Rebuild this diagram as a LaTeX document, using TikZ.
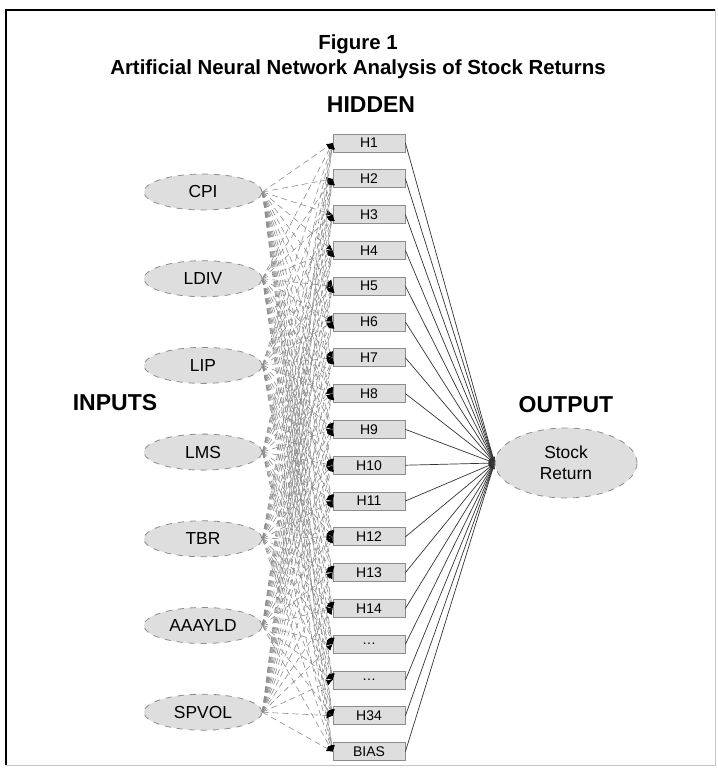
\documentclass[tikz,border=0pt]{standalone}
\usepackage{fontspec}
\setmainfont{Liberation Sans}
\usepackage{tikz}
\usetikzlibrary{shapes.geometric}
\usetikzlibrary{arrows.meta}
\usetikzlibrary{positioning}
\definecolor{nodegray}{RGB}{222,222,222}
\definecolor{rimgray}{RGB}{140,140,140}
\definecolor{wiregray}{RGB}{140,140,140}
\tikzset{
  inputnode/.style={shape=ellipse,minimum width=59pt,minimum height=18pt,inner sep=0pt,fill=nodegray,draw=rimgray,dashed,line width=0.4pt,font=\fontsize{8.7}{10}\selectfont},
  hiddennode/.style={shape=rectangle,minimum width=36pt,minimum height=9pt,inner sep=0pt,fill=nodegray,draw=rimgray,line width=0.4pt,font=\fontsize{7}{8}\selectfont},
  outputnode/.style={shape=ellipse,minimum width=71pt,minimum height=35pt,inner sep=0pt,fill=nodegray,draw=rimgray,dashed,line width=0.4pt,align=center,font=\fontsize{8.7}{10.5}\selectfont},
  inwire/.style={draw=wiregray,densely dashed,line width=0.3pt,-{Latex[length=3pt,width=3pt,color=black]}},
  outwire/.style={draw=black!80,line width=0.35pt,-{Latex[length=3pt,width=2pt]}}
}
\newcommand\layertitle[1]{{\fontsize{11.5}{13}\selectfont\bfseries #1}}
\newcommand\figtitle[1]{{\fontsize{10.2}{12}\selectfont\bfseries #1}}

\begin{document}
\begin{tikzpicture}[x=0.5pt,y=-0.5pt]
\useasboundingbox (0,0) rectangle (717,770);
% frame
\draw[line width=1pt] (6,765) -- (6,10) -- (715,10);
\draw[gray!45,line width=0.4pt] (6,765) -- (715,765) -- (715,10);
% headings
\node (fig) at (358,44) {\figtitle{Figure 1}};
\node (caption) at (358,69) {\figtitle{Artificial Neural Network Analysis of Stock Returns}};
\node (hiddenlbl) at (371,105) {\layertitle{HIDDEN}};
\node (inputlbl) at (115,403) {\layertitle{INPUTS}};
% layers
\foreach \name [count=\i] in {CPI,LDIV,LIP,LMS,TBR,AAAYLD,SPVOL}
  \node[inputnode] (in\i) at (203,{192+(\i-1)*86.7}) {\name};
\foreach \name [count=\k] in {H1,H2,H3,H4,H5,H6,H7,H8,H9,H10,H11,H12,H13,H14,\ldots,\ldots,H34,BIAS}
  \node[hiddennode] (h\k) at (369,{143+(\k-1)*35.8}) {\name};
\node[outputnode] (out) at (566,463) {Stock\\Return};
\node[above=4pt of out] (outputlbl) {\layertitle{OUTPUT}};
% weights
\foreach \i in {1,...,7}
  \foreach \k in {1,...,18}
    \draw[inwire] (in\i.east) -- (h\k.west);
\foreach \k in {1,...,18}
  \draw[outwire] (h\k.east) -- (out.west);
\end{tikzpicture}
\end{document}
